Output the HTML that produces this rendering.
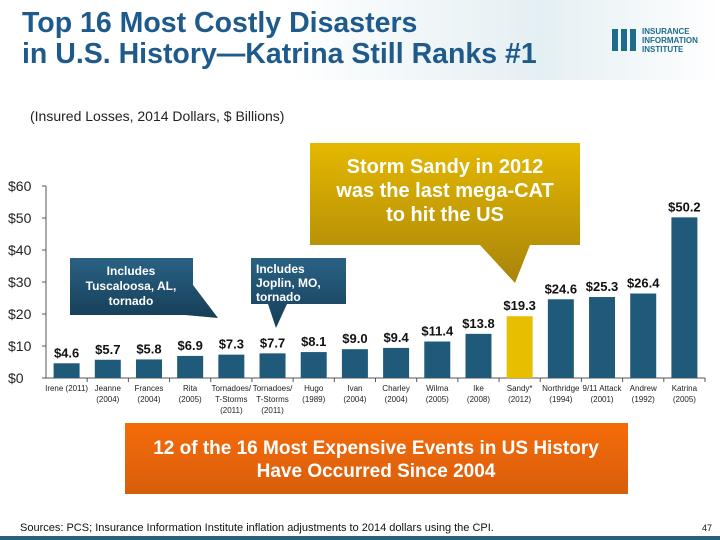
<!DOCTYPE html>
<html><head><meta charset="utf-8"><style>
body{margin:0;width:720px;height:540px;overflow:hidden;background:#fff;font-family:"Liberation Sans",sans-serif;position:relative}
.t{position:absolute}
</style></head><body>
<div class="t" style="left:0;top:0;width:720px;height:80px;background:linear-gradient(90deg,#fff 40%,#e4eff3 75%,#fff 100%)"></div>
<div class="t" style="left:22px;top:8px;font-size:28.5px;font-weight:bold;color:#1f5a8c;line-height:31px">Top 16 Most Costly Disasters<br>in U.S. History—Katrina Still Ranks #1</div>
<div class="t" style="left:612px;top:27px;width:110px;height:30px">
<div style="position:absolute;left:0;top:2px;width:26px;height:22px;background:repeating-linear-gradient(90deg,#1f6b8a 0 6px,transparent 6px 9px)"></div>
<div style="position:absolute;left:30px;top:0;font-size:8px;font-weight:bold;color:#1f6b8a;line-height:9px">INSURANCE<br>INFORMATION<br>INSTITUTE</div></div>
<div class="t" style="left:30px;top:108px;font-size:14px;color:#222">(Insured Losses, 2014 Dollars, $ Billions)</div>
<svg class="t" style="left:0;top:0" width="720" height="540">
<defs>
<linearGradient id="gold" x1="0" y1="0" x2="0" y2="1"><stop offset="0" stop-color="#e5b800"/><stop offset="1" stop-color="#a8840a"/></linearGradient>
<linearGradient id="blu" x1="0" y1="0" x2="0" y2="1"><stop offset="0" stop-color="#2a6284"/><stop offset="1" stop-color="#163e58"/></linearGradient>
<linearGradient id="org" x1="0" y1="0" x2="0" y2="1"><stop offset="0" stop-color="#f56b0a"/><stop offset="1" stop-color="#d85e0c"/></linearGradient>
</defs>
<g id="axes"></g><g id="bars"></g>
<polygon points="310,143 580,143 580,245 530,245 515,283 480,245 310,245" fill="url(#gold)"/>
<text x="445" y="173" text-anchor="middle" font-size="20" font-weight="bold" fill="#fff">Storm Sandy in 2012</text>
<text x="445" y="197" text-anchor="middle" font-size="20" font-weight="bold" fill="#fff">was the last mega-CAT</text>
<text x="445" y="221" text-anchor="middle" font-size="20" font-weight="bold" fill="#fff">to hit the US</text>
<polygon points="70,258 193,258 193,285 218,318 185,315 70,315" fill="url(#blu)"/>
<text x="131" y="275" text-anchor="middle" font-size="12" font-weight="bold" fill="#fff">Includes</text>
<text x="131" y="290" text-anchor="middle" font-size="12" font-weight="bold" fill="#fff">Tuscaloosa, AL,</text>
<text x="131" y="305" text-anchor="middle" font-size="12" font-weight="bold" fill="#fff">tornado</text>
<polygon points="251,258 346,258 346,304 287,304 276,328 268,304 251,304" fill="url(#blu)"/>
<text x="256" y="273" font-size="12" font-weight="bold" fill="#fff">Includes</text>
<text x="256" y="287" font-size="12" font-weight="bold" fill="#fff">Joplin, MO,</text>
<text x="256" y="301" font-size="12" font-weight="bold" fill="#fff">tornado</text>
<rect x="125" y="423" width="503" height="71" fill="url(#org)"/>
<text x="376" y="454" text-anchor="middle" font-size="19" font-weight="bold" fill="#fff">12 of the 16 Most Expensive Events in US History</text>
<text x="376" y="477" text-anchor="middle" font-size="19" font-weight="bold" fill="#fff">Have Occurred Since 2004</text>
<text x="20" y="531" font-size="11" fill="#111">Sources: PCS; Insurance Information Institute inflation adjustments to 2014 dollars using the CPI.</text>
<text x="702" y="531" font-size="9" fill="#111">47</text>
<rect x="0" y="536" width="720" height="4" fill="#2a5f80"/>
</svg>
<script>
const categories=[["Irene (2011)"],["Jeanne","(2004)"],["Frances","(2004)"],["Rita","(2005)"],["Tornadoes/","T-Storms","(2011)"],["Tornadoes/","T-Storms","(2011)"],["Hugo","(1989)"],["Ivan","(2004)"],["Charley","(2004)"],["Wilma","(2005)"],["Ike","(2008)"],["Sandy*","(2012)"],["Northridge","(1994)"],["9/11 Attack","(2001)"],["Andrew","(1992)"],["Katrina","(2005)"]];
const values=[4.6,5.7,5.8,6.9,7.3,7.7,8.1,9.0,9.4,11.4,13.8,19.3,24.6,25.3,26.4,50.2];
const yTicks=[0,10,20,30,40,50,60];
const highlightIndex=11;
const NS="http://www.w3.org/2000/svg";
const x0=46,x1=705,yBase=378,pxPer=3.2;
const band=(x1-x0)/categories.length;
function xc(i){return x0+band*(i+0.5);}
function yv(v){return yBase-v*pxPer;}
function mk(tag,attrs,parent,text){const e=document.createElementNS(NS,tag);for(const k in attrs)e.setAttribute(k,attrs[k]);if(text!==undefined)e.textContent=text;parent.appendChild(e);return e;}
const ax=document.getElementById('axes'),bg=document.getElementById('bars');
const yl=mk('line',{x1:x0,y1:yv(0),x2:x0,y2:yv(60),stroke:'#555'},ax);


const xl=mk('line',{x1:x0,y1:yBase,x2:x1,y2:yBase,stroke:'#555'},ax);


yTicks.forEach(t=>{
  mk('line',{x1:x0-4,y1:yv(t),x2:x0,y2:yv(t),stroke:'#555'},ax);
  const tx=mk('text',{x:x0-38,y:yv(t)+5,'font-size':14,fill:'#222'},ax,'$'+t);
  
  
});
categories.forEach((c,i)=>{
  mk('line',{x1:x0+band*(i+1),y1:yBase,x2:x0+band*(i+1),y2:yBase+4,stroke:'#555'},ax);
  c.forEach((ln,j)=>{
    const tx=mk('text',{x:xc(i),y:yBase+13+j*11,'text-anchor':'middle','font-size':8,fill:'#222'},ax,ln);
    
    
  });
  const v=values[i];
  const r=mk('rect',{x:xc(i)-13,y:yv(v),width:26,height:v*pxPer,fill:i===highlightIndex?'#e8bf00':'#1f5a7a'},bg);
  
  
  const lb=mk('text',{x:xc(i),y:yv(v)-6,'text-anchor':'middle','font-size':13,'font-weight':'bold',fill:'#111'},bg,'$'+v.toFixed(1));
  
  
});
</script>
</body></html>
